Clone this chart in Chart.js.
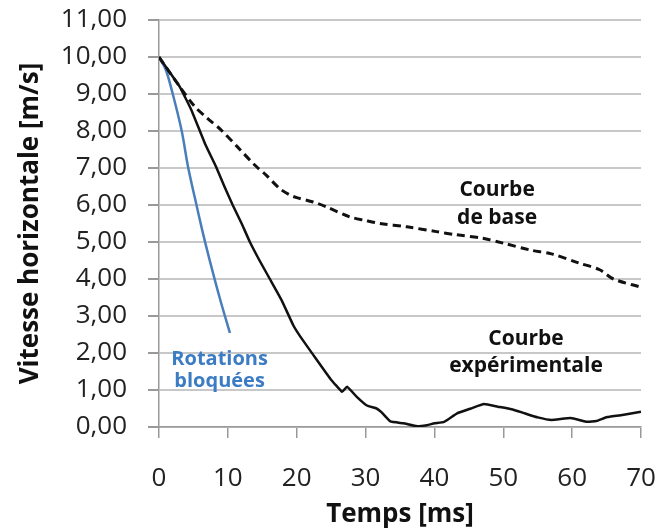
<!DOCTYPE html>
<html>
<head>
<meta charset="utf-8">
<script src="https://cdn.jsdelivr.net/npm/chart.js@4.4.1/dist/chart.umd.min.js"></script>
<style>
    html, body { margin: 0; padding: 0; background: #fff; }
    #wrap { width: 657px; height: 530px; }
</style>
</head>
<body>
<div id="wrap"><canvas id="myChart" width="657" height="530"></canvas></div>
<script>
// Courbe expérimentale
const expT = [0, 1.5, 3, 4.7, 6.7, 8.3, 9.5, 10.7, 12, 13.2, 14.6, 16.1, 17.8, 19.5, 20.5, 22.4, 24.9, 26.6, 27.3, 28.8, 30.2, 31.6, 32.3, 33.6, 35.5, 37.5, 38.9, 40, 41.4, 43.3, 45.3, 47.2, 49.2, 51.2, 53.1, 55, 57, 59.8, 62.2, 63.5, 65.1, 67.5, 70];
const expV = [10, 9.6, 9.2, 8.57, 7.65, 7.03, 6.5, 6.0, 5.5, 5.0, 4.5, 4.0, 3.43, 2.75, 2.45, 1.95, 1.3, 0.95, 1.09, 0.8, 0.58, 0.5, 0.4, 0.15, 0.1, 0.02, 0.05, 0.1, 0.14, 0.37, 0.5, 0.62, 0.55, 0.48, 0.37, 0.26, 0.19, 0.24, 0.14, 0.16, 0.27, 0.33, 0.41];

// Courbe de base
const baseT = [0, 3, 5.2, 7, 9, 11.5, 13.9, 15.6, 17.5, 19, 20, 22.4, 24.3, 27.7, 30, 32.1, 36, 40.3, 43, 47, 50, 54, 57, 61, 64, 66, 70];
const baseV = [10, 9.2, 8.66, 8.35, 8.03, 7.55, 7.08, 6.8, 6.45, 6.27, 6.2, 6.08, 5.95, 5.68, 5.58, 5.5, 5.41, 5.28, 5.2, 5.1, 4.97, 4.78, 4.68, 4.43, 4.25, 4.0, 3.78];

// Rotations bloquées
const blockT = [0, 1, 2, 3.3, 4.2, 5.2, 6.3, 7.3, 8.8, 10.3];
const blockV = [10, 9.65, 9.0, 8.0, 7.05, 6.2, 5.3, 4.55, 3.5, 2.54];

const xTicks = [0, 10, 20, 30, 40, 50, 60, 70];

const toPoints = (xs, ys) => xs.map((x, i) => ({ x: x, y: ys[i] }));

// text labels placed in data coordinates
const notes = [
    { text: 'Courbe', x: 49.1, y: 6.4, color: '#111', size: 21 },
    { text: 'de base', x: 49.1, y: 5.65, color: '#111', size: 21 },
    { text: 'Courbe', x: 53.3, y: 2.38, color: '#111', size: 21 },
    { text: 'expérimentale', x: 53.3, y: 1.65, color: '#111', size: 21 },
    { text: 'Rotations', x: 8.8, y: 1.84, color: '#3c7cc4', size: 20 },
    { text: 'bloquées', x: 8.8, y: 1.24, color: '#3c7cc4', size: 20 }
];

const notesPlugin = {
    id: 'notes',
    afterDatasetsDraw: function (chart) {
        var ctx = chart.ctx;
        var xs = chart.scales.x;
        var ys = chart.scales.y;
        ctx.save();
        ctx.textAlign = 'center';
        ctx.textBaseline = 'middle';
        notes.forEach(n => {
            ctx.font = 'bold ' + n.size + 'px "Open Sans"';
            ctx.fillStyle = n.color;
            ctx.fillText(n.text, xs.getPixelForValue(n.x), ys.getPixelForValue(n.y));
        });
        ctx.restore();
    }
};

var ctx = document.getElementById('myChart').getContext('2d');
new Chart(ctx, {
    type: 'line',
    data: {
        datasets: [{
            label: 'Courbe de base',
            data: toPoints(baseT, baseV),
            borderColor: '#111',
            borderWidth: 3,
            borderDash: [8, 5],
            pointRadius: 0,
            tension: 0.3
        },
        {
            label: 'Courbe expérimentale',
            data: toPoints(expT, expV),
            borderColor: '#111',
            borderWidth: 2.5,
            pointRadius: 0,
            tension: 0.1
        },
        {
            label: 'Rotations bloquées',
            data: toPoints(blockT, blockV),
            borderColor: '#4a7ebb',
            borderWidth: 2.5,
            pointRadius: 0,
            tension: 0.3
        }]
    },
    options: {
        responsive: false,
        animation: false,
        layout: { padding: { top: 20, right: 16, left: 0, bottom: 0 } },
        plugins: {
            legend: { display: false },
            tooltip: { enabled: false }
        },
        scales: {
            x: {
                type: 'linear',
                min: 0,
                max: 70,
                afterBuildTicks: axis => { axis.ticks = xTicks.map(v => ({ value: v })); },
                afterFit: axis => {
                    axis.height = 103;
                    axis.paddingLeft = 0;
                    axis.paddingRight = 0;
                },
                grid: { drawOnChartArea: false, tickLength: 11, color: '#999', lineWidth: 1.5 },
                border: { color: '#999', width: 1.5 },
                ticks: { padding: 25, color: '#222', font: { family: 'Open Sans', size: 26 } },
                title: { display: true, text: 'Temps [ms]', color: '#111', padding: { top: 0, bottom: 0 }, font: { family: 'Open Sans', size: 26, weight: 'bold' } }
            },
            y: {
                min: 0,
                max: 11,
                afterFit: axis => {
                    axis.width = 159;
                    axis.paddingTop = 0;
                    axis.paddingBottom = 0;
                },
                ticks: {
                    stepSize: 1,
                    padding: 21,
                    color: '#222',
                    font: { family: 'Open Sans', size: 26 },
                    callback: function (value) { return value.toFixed(2).replace('.', ','); }
                },
                grid: { color: '#c8c8c8', lineWidth: 2, tickLength: 11, tickColor: '#999' },
                border: { color: '#999', width: 1.5 },
                title: { display: true, text: 'Vitesse horizontale [m/s]', color: '#111', padding: { top: 15, bottom: 0 }, font: { family: 'Open Sans', size: 26, weight: 'bold' } }
            }
        }
    },
    plugins: [notesPlugin]
});
</script>
</body>
</html>
